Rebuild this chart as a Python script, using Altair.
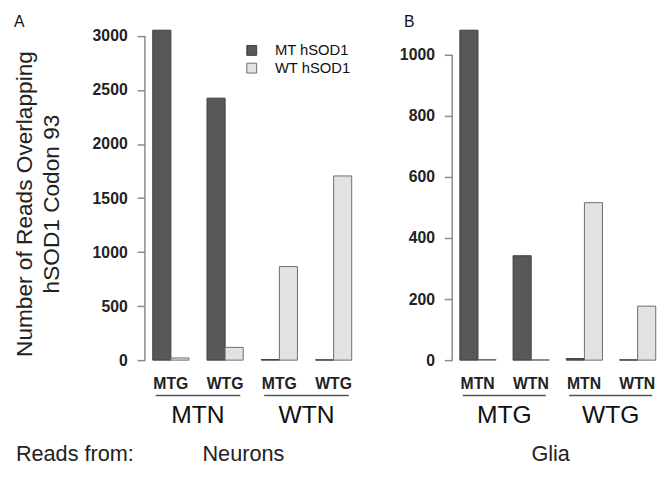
import altair as alt
import pandas as pd

alleles = ["MT hSOD1", "WT hSOD1"]

neuron_groups = ["MTN", "MTN", "WTN", "WTN"]
neuron_subs = ["MTG", "WTG", "MTG", "WTG"]
neuron_mt = [3054, 2425, 5, 3]
neuron_wt = [20, 118, 866, 1705]
neuron_ticks = [0, 500, 1000, 1500, 2000, 2500, 3000]

glia_groups = ["MTG", "MTG", "WTG", "WTG"]
glia_subs = ["MTN", "WTN", "MTN", "WTN"]
glia_mt = [1081, 342, 5, 1]
glia_wt = [2, 1, 516, 177]
glia_ticks = [0, 200, 400, 600, 800, 1000]

y_title = ["Number of Reads Overlapping", "hSOD1 Codon 93"]

DARK = "#58585a"
LIGHT = "#e2e2e4"
AXIS = "#8a8a8a"
FONT = "Liberation Sans"
H = 335
P_IN = 1 / 3
P_OUT = 0.0725
BOTTOM_Y = 437


def panel(groups, subs, mt, wt, ticks, letter, cell_label, width, first):
    pairs = [f"{g}|{s}" for g, s in zip(groups, subs)]
    rows = []
    for p, a, b in zip(pairs, mt, wt):
        rows.append({"pair": p, "allele": alleles[0], "value": a})
        rows.append({"pair": p, "allele": alleles[1], "value": b})
    df = pd.DataFrame(rows)
    ymax = max(max(mt), max(wt))
    step = width / (len(pairs) - P_IN + 2 * P_OUT)
    half_gap = step * P_IN / 2

    xscale = alt.Scale(domain=pairs, paddingInner=P_IN, paddingOuter=P_OUT, align=1)
    yscale = alt.Scale(domain=[0, ymax], nice=False, zero=True)

    yaxis = alt.Axis(
        values=ticks, format="d", domain=False, grid=False, tickColor=AXIS, tickWidth=1.5,
        tickSize=8, labelFontSize=16, labelFontWeight="bold", labelColor="#222",
        labelPadding=10, labelFont=FONT,
        title=y_title if first else "",
        titleFontSize=23, titleFontWeight="normal", titleLineHeight=27,
        titleColor="#222", titleFont=FONT, titleX=-110, titleY=176,
    )
    xaxis = alt.Axis(
        labelExpr="split(datum.label, '|')[1]", ticks=False, domain=False,
        labelFontSize=16, labelFontWeight="bold", labelColor="#222",
        labelPadding=16, labelAngle=0, title="", labelFont=FONT, grid=False,
    )
    legend = alt.Legend(
        orient="none", legendX=101, legendY=13, title=None, symbolType="square",
        symbolSize=100, symbolStrokeColor="#444", symbolStrokeWidth=1,
        labelFontSize=15, labelOffset=16, rowPadding=2, labelColor="#111",
        labelFont=FONT,
    ) if first else None

    bars = alt.Chart(df).mark_bar(strokeWidth=1).encode(
        x=alt.X("pair:N", scale=xscale, axis=xaxis),
        xOffset=alt.XOffset("allele:N", scale=alt.Scale(domain=alleles)),
        y=alt.Y("value:Q", scale=yscale, axis=yaxis),
        color=alt.Color("allele:N", scale=alt.Scale(domain=alleles, range=[DARK, LIGHT]), legend=legend),
        stroke=alt.Stroke("allele:N", scale=alt.Scale(domain=alleles, range=["#3c3c3c", "#6e6e6e"]), legend=None),
    )

    axis_line = alt.Chart(pd.DataFrame({"bottom": [ticks[0]], "top": [ticks[-1]]})).mark_rule(
        color=AXIS, strokeWidth=1.5
    ).encode(
        x=alt.value(0),
        y=alt.Y("bottom:Q", axis=yaxis),
        y2=alt.Y2("top"),
    )

    gdf = pd.DataFrame({
        "group": [groups[0], groups[2]],
        "first": [pairs[0], pairs[2]],
        "last": [pairs[1], pairs[3]],
    })
    glines = alt.Chart(gdf).mark_rule(color="#555", strokeWidth=1.5).encode(
        x=alt.X("first:N", bandPosition=0.08, axis=xaxis),
        x2=alt.X2("last", bandPosition=0.92),
        y=alt.value(371),
    )
    gtext = alt.Chart(gdf).mark_text(
        fontSize=25, baseline="alphabetic", color="#111", font=FONT, dx=half_gap
    ).encode(
        x=alt.X("first:N", bandPosition=1, axis=xaxis),
        y=alt.value(399),
        text="group:N",
    )

    letter_t = alt.Chart(pd.DataFrame({"t": [letter]})).mark_text(
        fontSize=16, align="left", baseline="alphabetic", color="#111", font=FONT
    ).encode(x=alt.value(-133 if first else -49), y=alt.value(-3), text="t:N")

    cell_t = alt.Chart(pd.DataFrame({"t": [cell_label]})).mark_text(
        fontSize=22, align="center", baseline="alphabetic", color="#222", font=FONT
    ).encode(x=alt.value(100), y=alt.value(BOTTOM_Y), text="t:N")

    layers = [bars, axis_line, glines, gtext, letter_t, cell_t]
    if first:
        reads_t = alt.Chart(pd.DataFrame({"t": ["Reads from:"]})).mark_text(
            fontSize=22, align="left", baseline="alphabetic", color="#222", font=FONT
        ).encode(x=alt.value(-131), y=alt.value(BOTTOM_Y), text="t:N")
        layers.append(reads_t)
    return alt.layer(*layers).properties(width=width, height=H)


pa = panel(neuron_groups, neuron_subs, neuron_mt, neuron_wt, neuron_ticks, "A", "Neurons", 210, True)
pb = panel(glia_groups, glia_subs, glia_mt, glia_wt, glia_ticks, "B", "Glia", 206, False)

chart = alt.hconcat(pa, pb, spacing=102, bounds="flush").resolve_scale(
    x="independent", y="independent", color="independent", stroke="independent"
).properties(
    padding={"left": 5, "top": 3, "right": 0, "bottom": 2}
).configure(font=FONT).configure_view(stroke=None)

chart.save("out.html", embed_options={"renderer": "svg", "actions": False})
